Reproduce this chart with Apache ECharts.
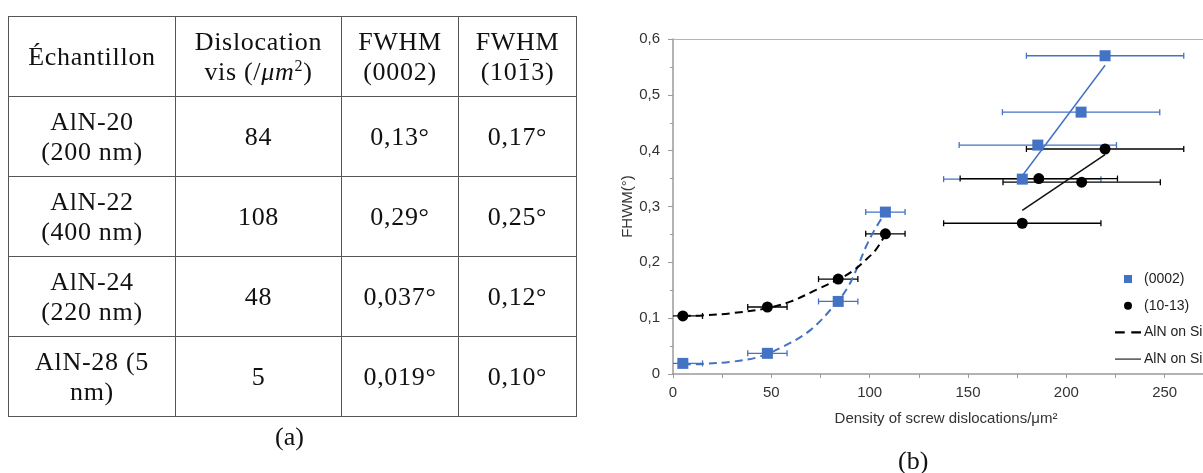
<!DOCTYPE html>
<html><head><meta charset="utf-8">
<script src="https://cdn.jsdelivr.net/npm/echarts/dist/echarts.min.js"></script>
<style>
html,body{margin:0;padding:0;width:1203px;height:473px;overflow:hidden;background:#fff;}
#chart{position:absolute;left:0;top:0;width:1300px;height:473px;}
#tbl{position:absolute;left:8px;top:16px;border-collapse:collapse;font-family:"Liberation Serif","DejaVu Serif",serif;font-size:26px;letter-spacing:0.7px;color:#111;table-layout:fixed;}
#tbl td{border:1.5px solid #555;text-align:center;vertical-align:middle;padding:0;line-height:30px;white-space:pre-line;height:79px;}
#tbl sup{font-size:16px;line-height:0;vertical-align:9px;}
.ovw{position:relative;}
.ovl{position:absolute;left:2px;right:2px;top:2px;border-top:1.5px solid #111;}
.cap{position:absolute;font-family:"Liberation Serif","DejaVu Serif",serif;font-size:26px;color:#111;line-height:30px;}
</style></head>
<body>
<div id="chart"></div>
<table id="tbl"><colgroup><col style="width:167px"><col style="width:166px"><col style="width:117px"><col style="width:118px"></colgroup><tbody id="tbody"></tbody></table>
<div class="cap" style="left:275px;top:422px;">(a)</div>
<div class="cap" style="left:898px;top:446px;">(b)</div>
<script>
// ---- table data ----
const tableHeaders = ['Échantillon', 'Dislocation\nvis (/<i>μm</i><sup>2</sup>)', 'FWHM\n(0002)', 'FWHM\n(10<span class="ovw">1<span class="ovl"></span></span>3)'];
const sampleLabels = ['AlN-20\n(200 nm)', 'AlN-22\n(400 nm)', 'AlN-24\n(220 nm)', 'AlN-28 (5\nnm)'];
const screwDislocations = ['84', '108', '48', '5'];
const fwhm0002Text = ['0,13°', '0,29°', '0,037°', '0,019°'];
const fwhm1013Text = ['0,17°', '0,25°', '0,12°', '0,10°'];

// ---- chart data ----
const sicDensity = [5, 48, 84, 108];
const sic0002 = [0.019, 0.037, 0.13, 0.29];
const sic1013 = [0.104, 0.12, 0.17, 0.251];
const sicErr = [10, 10, 10, 10];
const siDensity0002 = [177.6, 185.5, 207.5, 219.7];
const si0002 = [0.349, 0.41, 0.469, 0.57];
const siDensity1013 = [177.6, 186, 207.8, 219.7];
const si1013 = [0.27, 0.35, 0.3435, 0.403];
const siErr = [40, 40, 40, 40];
const sicTrend0002 = [[5,0.017],[15,0.018],[30,0.022],[43,0.030],[56,0.049],[70,0.079],[83,0.127],[89,0.156],[94,0.193],[98,0.227],[102,0.255],[108,0.29]];
const sicTrend1013 = [[5,0.104],[15,0.105],[30,0.109],[48,0.118],[60,0.13],[73,0.151],[85,0.171],[92,0.186],[97,0.201],[103,0.222],[108,0.25]];
const siTrend0002 = [[177.6,0.355],[219.7,0.553]];
const siTrend1013 = [[177.6,0.293],[219.7,0.393]];
const yTickLabels = ['0','0,1','0,2','0,3','0,4','0,5','0,6'];
const xTickLabels = ['0','50','100','150','200','250','300'];

// build table
const tb = document.getElementById('tbody');
let html = '<tr>' + tableHeaders.map(h => '<td>' + h + '</td>').join('') + '</tr>';
for (let i = 0; i < sampleLabels.length; i++) {
  html += '<tr><td>' + sampleLabels[i] + '</td><td>' + screwDislocations[i] + '</td><td>' + fwhm0002Text[i] + '</td><td>' + fwhm1013Text[i] + '</td></tr>';
}
tb.innerHTML = html;

const BLUE = '#4472C4';
const zip3 = (xs, ys, es) => xs.map((x, i) => [x, ys[i], es[i]]);
const zip2 = (xs, ys) => xs.map((x, i) => [x, ys[i]]);

function errRender(params, api) {
  const x = api.value(0), y = api.value(1), e = api.value(2);
  const p1 = api.coord([x - e, y]), p2 = api.coord([x + e, y]);
  const h = 3;
  const style = { stroke: api.visual('color'), lineWidth: 1.3, fill: null };
  return { type: 'group', children: [
    { type: 'line', shape: { x1: p1[0], y1: p1[1], x2: p2[0], y2: p2[1] }, style },
    { type: 'line', shape: { x1: p1[0], y1: p1[1] - h, x2: p1[0], y2: p1[1] + h }, style },
    { type: 'line', shape: { x1: p2[0], y1: p2[1] - h, x2: p2[0], y2: p2[1] + h }, style }
  ]};
}

const SANS = '"Liberation Sans", Arial, sans-serif';
const chart = echarts.init(document.getElementById('chart'), null, { renderer: 'canvas' });
chart.setOption({
  animation: false,
  backgroundColor: 'transparent',
  grid: { left: 673, top: 39, width: 590, height: 335 },
  legend: {
    orient: 'vertical', left: 1110, top: 267, itemWidth: 26, itemHeight: 8, itemGap: 12.7,
    textStyle: { fontFamily: SANS, fontSize: 14, color: '#222', padding: [0,0,0,-2] },
    data: [
      { name: '(0002)', icon: 'path://M0,0H1V1H0Z' },
      { name: '(10-13)', icon: 'circle' },
      { name: 'AlN on SiC', icon: 'path://M0,0H9V2H0Z M15,0H24V2H15Z' },
      { name: 'AlN on Si', icon: 'path://M0,0H26V1.4H0Z' }
    ]
  },
  xAxis: [{
    type: 'value', min: 0, max: 300, interval: 50,
    name: 'Density of screw dislocations/μm²', nameLocation: 'middle', nameGap: 37,
    nameTextStyle: { fontFamily: SANS, fontSize: 15, color: '#333', padding: [0, 44, 0, 0] },
    axisLine: { show: true, lineStyle: { color: '#9a9a9a', width: 1.5 } },
    axisTick: { show: true, length: 4, lineStyle: { color: '#9a9a9a' } },
    minorTick: { show: true, splitNumber: 2, length: 4, lineStyle: { color: '#9a9a9a' } },
    splitLine: { show: false },
    axisLabel: { margin: 11, fontFamily: SANS, fontSize: 15, color: '#333', formatter: (v, i) => xTickLabels[i] }
  }, {
    type: 'value', min: 0, max: 300, position: 'top',
    axisLine: { show: true, onZero: false, lineStyle: { color: '#b5b5b5', width: 1 } },
    axisTick: { show: false }, axisLabel: { show: false }, splitLine: { show: false }
  }],
  yAxis: {
    type: 'value', min: 0, max: 0.6, interval: 0.1,
    name: 'FHWM(°)', nameLocation: 'middle', nameGap: 38,
    nameTextStyle: { fontFamily: SANS, fontSize: 15, color: '#333' },
    axisLine: { show: true, lineStyle: { color: '#9a9a9a', width: 1.5 } },
    axisTick: { show: true, length: 5, lineStyle: { color: '#9a9a9a' } },
    minorTick: { show: true, splitNumber: 2, length: 3, lineStyle: { color: '#9a9a9a' } },
    splitLine: { show: false },
    axisLabel: { margin: 13, fontFamily: SANS, fontSize: 15, color: '#333', formatter: (v, i) => yTickLabels[i] }
  },
  series: [
    { type: 'custom', name: 'err0002', renderItem: errRender, clip: true, z: 2, itemStyle: { color: BLUE },
      encode: { x: 0, y: 1 }, data: zip3(sicDensity, sic0002, sicErr).concat(zip3(siDensity0002, si0002, siErr)) },
    { type: 'custom', name: 'err1013', renderItem: errRender, clip: true, z: 2, itemStyle: { color: '#000' },
      encode: { x: 0, y: 1 }, data: zip3(sicDensity, sic1013, sicErr).concat(zip3(siDensity1013, si1013, siErr)) },
    { type: 'line', name: 'trend0002SiC', data: sicTrend0002, smooth: 0.35, symbol: 'none', z: 3,
      lineStyle: { color: BLUE, width: 2, type: [8, 5] } },
    { type: 'line', name: 'AlN on SiC', data: sicTrend1013, smooth: 0.35, symbol: 'none', z: 3,
      itemStyle: { color: '#000' }, lineStyle: { color: '#000', width: 2, type: [8, 5] } },
    { type: 'line', name: 'trend0002Si', data: siTrend0002, symbol: 'none', z: 3,
      lineStyle: { color: BLUE, width: 1.5 } },
    { type: 'line', name: 'AlN on Si', data: siTrend1013, symbol: 'none', z: 3,
      itemStyle: { color: '#444' }, lineStyle: { color: '#111', width: 1.5 } },
    { type: 'scatter', name: '(0002)', symbol: 'rect', symbolSize: 11, z: 4, itemStyle: { color: BLUE, opacity: 1 },
      data: zip2(sicDensity, sic0002).concat(zip2(siDensity0002, si0002)) },
    { type: 'scatter', name: '(10-13)', symbol: 'circle', symbolSize: 11, z: 4, itemStyle: { color: '#000', opacity: 1 },
      data: zip2(sicDensity, sic1013).concat(zip2(siDensity1013, si1013)) }
  ]
});
</script>
</body></html>
